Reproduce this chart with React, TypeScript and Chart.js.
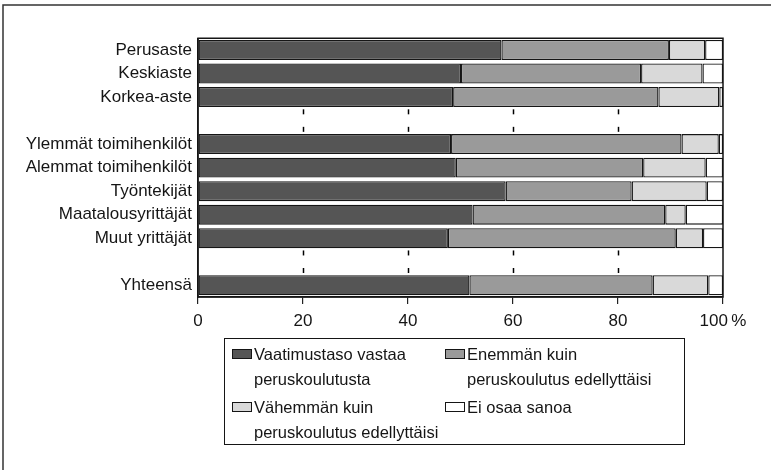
import React, { useEffect, useRef } from "react";
import { Chart, registerables } from "chart.js";

Chart.register(...registerables);

const categories = [
  "Perusaste",
  "Keskiaste",
  "Korkea-aste",
  "",
  "Ylemmät toimihenkilöt",
  "Alemmat toimihenkilöt",
  "Työntekijät",
  "Maatalousyrittäjät",
  "Muut yrittäjät",
  "",
  "Yhteensä",
];

const vaatimustaso = [57.8, 50.1, 48.6, null, 48.2, 49.1, 58.6, 52.3, 47.6, null, 51.7];
const enemman = [31.9, 34.3, 39.1, null, 43.9, 35.7, 24.0, 36.7, 43.4, null, 34.9];
const vahemman = [6.9, 11.7, 11.6, null, 7.1, 11.9, 14.3, 3.9, 5.2, null, 10.6];
const eiOsaa = [3.4, 3.9, 0.7, null, 0.8, 3.3, 3.1, 7.1, 3.8, null, 2.8];

const xTickValues = [0, 20, 40, 60, 80, 100];
const xTickLabels = ["0", "20", "40", "60", "80", "100\u2009%"];

const seriesLabels = [
  ["Vaatimustaso vastaa", "peruskoulutusta"],
  ["Enemmän kuin", "peruskoulutus edellyttäisi"],
  ["Vähemmän kuin", "peruskoulutus edellyttäisi"],
  ["Ei osaa sanoa"],
];
const seriesColors = ["#555555", "#9a9a9a", "#d9d9d9", "#ffffff"];

const FONT = "'Liberation Sans', Arial, sans-serif";
const INK = "#151515";

const framePlugin = {
  id: "frame",
  beforeDraw(chart: any) {
    const ctx = chart.ctx;
    ctx.save();
    ctx.fillStyle = "#ffffff";
    ctx.fillRect(0, 0, chart.width, chart.height);
    ctx.strokeStyle = "#333";
    ctx.lineWidth = 1.5;
    ctx.beginPath();
    ctx.moveTo(3, chart.height);
    ctx.lineTo(3, 5);
    ctx.lineTo(chart.width, 5);
    ctx.stroke();
    ctx.restore();
  },
  afterDatasetsDraw(chart: any) {
    const { left, top, right, bottom } = chart.chartArea;
    const xs = chart.scales.x;
    const step = (bottom - top) / categories.length;
    const ctx = chart.ctx;
    ctx.save();
    // short grid marks at category boundaries, visible in the empty rows
    ctx.strokeStyle = "#000";
    ctx.lineWidth = 1.5;
    categories.forEach((c, k) => {
      if (c !== "") return;
      const edges = [top + k * step + 3, top + (k + 1) * step - 3];
      xTickValues.forEach((v) => {
        if (v === 0 || v === 100) return;
        const x = Math.round(xs.getPixelForValue(v)) + 0.5;
        edges.forEach((yb) => {
          ctx.beginPath();
          ctx.moveTo(x, yb - 2.5);
          ctx.lineTo(x, yb + 2.5);
          ctx.stroke();
        });
      });
    });
    ctx.strokeStyle = INK;
    ctx.lineWidth = 1.5;
    ctx.strokeRect(left, top, right - left, bottom - top);
    ctx.restore();
  },
};

export default function App() {
  const canvasRef = useRef<HTMLCanvasElement | null>(null);

  useEffect(() => {
    const canvas = canvasRef.current;
    if (!canvas) return;
    const seriesData = [vaatimustaso, enemman, vahemman, eiOsaa];
    const chart = new Chart(canvas, {
      type: "bar",
      data: {
        labels: categories,
        datasets: seriesData.map((d, i) => ({
          label: seriesLabels[i].join(" "),
          data: d,
          backgroundColor: seriesColors[i],
          borderColor: INK,
          borderWidth: 1.3,
          borderSkipped: false,
          barPercentage: 0.85,
          categoryPercentage: 1,
        })),
      },
      options: {
        indexAxis: "y",
        responsive: false,
        animation: false,
        devicePixelRatio: 1,
        layout: { padding: { top: 38.25, right: 48, bottom: 143, left: 0 } },
        plugins: {
          legend: { display: false },
          tooltip: { enabled: false },
          title: { display: false },
        },
        scales: {
          x: {
            type: "linear",
            stacked: true,
            min: 0,
            max: 100,
            afterBuildTicks: (scale: any) => {
              scale.ticks = xTickValues.map((v) => ({ value: v }));
            },
            afterFit: (scale: any) => {
              scale.height = 30;
            },
            ticks: {
              autoSkip: false,
              maxRotation: 0,
              padding: 7,
              color: INK,
              font: { family: FONT, size: 17 },
              callback: (v: any) => {
                const idx = xTickValues.indexOf(Number(v));
                return idx >= 0 ? xTickLabels[idx] : "";
              },
            },
            grid: {
              drawOnChartArea: false,
              color: "#222",
              lineWidth: 1.2,
              tickLength: 7,
              tickColor: "#222",
              tickWidth: 1.2,
            },
            border: { display: true, color: INK, width: 1.5 },
          },
          y: {
            type: "category",
            stacked: true,
            afterFit: (scale: any) => {
              scale.width = 198;
            },
            ticks: {
              autoSkip: false,
              padding: 6,
              color: INK,
              font: { family: FONT, size: 17 },
            },
            grid: { display: false, drawTicks: false },
            border: { display: true, color: INK, width: 1.5 },
          },
        },
      },
      plugins: [framePlugin],
    } as any);
    return () => chart.destroy();
  }, []);

  const legendItems = [
    { x: 232, y: 342, i: 0 },
    { x: 445, y: 342, i: 1 },
    { x: 232, y: 395, i: 2 },
    { x: 445, y: 395, i: 3 },
  ];

  return (
    <div
      style={{
        position: "fixed",
        left: 0,
        top: 0,
        width: 771,
        height: 470,
        background: "#fff",
        overflow: "hidden",
      }}
    >
      <canvas
        ref={canvasRef}
        width={771}
        height={470}
        style={{ display: "block", width: 771, height: 470 }}
      />
      <div
        style={{
          position: "absolute",
          left: 224,
          top: 338,
          width: 685 - 224,
          height: 445 - 338,
          border: `1.5px solid ${INK}`,
          boxSizing: "border-box",
        }}
      />
      {legendItems.map((it) => (
        <React.Fragment key={it.i}>
          <div
            style={{
              position: "absolute",
              left: it.x,
              top: it.y + 7,
              width: 20,
              height: 10,
              background: seriesColors[it.i],
              border: `1px solid ${INK}`,
              boxSizing: "border-box",
            }}
          />
          <div
            style={{
              position: "absolute",
              left: it.x + 22,
              top: it.y,
              fontFamily: FONT,
              fontSize: 16.5,
              lineHeight: "25px",
              color: INK,
              whiteSpace: "nowrap",
            }}
          >
            {seriesLabels[it.i].map((line, k) => (
              <div key={k}>{line}</div>
            ))}
          </div>
        </React.Fragment>
      ))}
    </div>
  );
}
